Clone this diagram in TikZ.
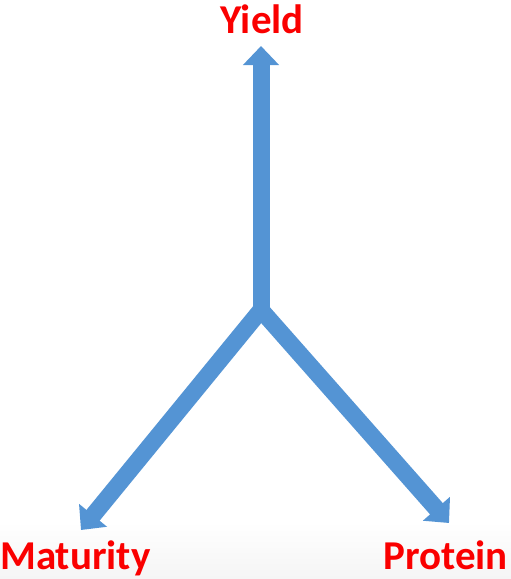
\documentclass[tikz,border=0pt]{standalone}
\usepackage{fontspec}
\setmainfont{Carlito}
\usetikzlibrary{arrows.meta}
\definecolor{arrowblue}{RGB}{84,148,212}
\definecolor{labelred}{RGB}{250,0,0}
\begin{document}
\begin{tikzpicture}[
  x=1pt, y=-1pt,
  every node/.style={font=\fontsize{41}{41}\selectfont\bfseries, text=labelred, inner sep=0pt},
  trait/.style={draw=arrowblue, line width=17pt,
    arrows={-Triangle[width=35pt,length=19pt]}}
]
\useasboundingbox (0,0) rectangle (511,579);
% faint floor at the bottom
\shade[top color=white, bottom color=gray!8] (0,522) rectangle (511,579);
% labels
\node[anchor=base] (yield) at (262,33) {Yield};
\node[anchor=base west] (maturity) at (0,569) {Maturity};
\node[anchor=base east] (protein) at (508,569) {Protein};
% arrows
\coordinate (hub) at (261,310);
\coordinate (ytip) at (261,46);
\coordinate (mtip) at (81,530);
\coordinate (ptip) at (449,523);
\draw[trait] (hub) -- (ytip);
\draw[trait, arrows={Triangle[width=35pt,length=19pt]-Triangle[width=35pt,length=19pt]}] (mtip) -- (hub) -- (ptip);
\end{tikzpicture}
\end{document}
